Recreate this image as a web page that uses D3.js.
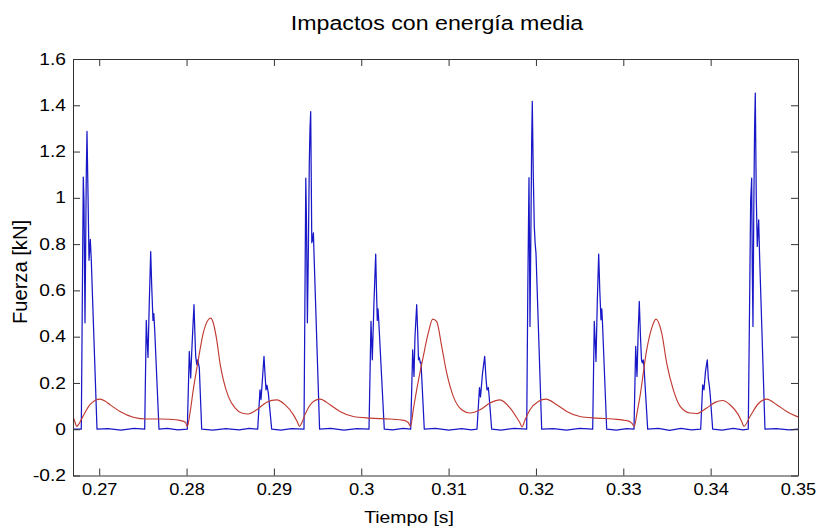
<!DOCTYPE html>
<html>
<head>
<meta charset="utf-8">
<script src="https://cdn.jsdelivr.net/npm/d3@7"></script>
<style>
  html, body { margin: 0; padding: 0; background: #fff; }
  svg { display: block; }
  text { font-family: "Liberation Sans", Arial, Helvetica, sans-serif; fill: #000; }
</style>
</head>
<body>
<svg id="chart" width="819" height="529"></svg>
<script>
// Time in milliseconds, force in kN.
const titleText = "Impactos con energía media";
const xLabelText = "Tiempo [s]";
const yLabelText = "Fuerza [kN]";

const xTicks = [270, 280, 290, 300, 310, 320, 330, 340, 350];
const xTickLabels = ["0.27", "0.28", "0.29", "0.3", "0.31", "0.32", "0.33", "0.34", "0.35"];
const yTicks = [-0.2, 0, 0.2, 0.4, 0.6, 0.8, 1, 1.2, 1.4, 1.6];
const yTickLabels = ["-0.2", "0", "0.2", "0.4", "0.6", "0.8", "1", "1.2", "1.4", "1.6"];

// Measured impact force (blue trace)
const forceTime = [
  267.000, 267.950, 268.065, 268.179, 268.259, 268.374, 268.523, 268.603, 268.717, 268.832, 268.981, 269.095, 269.209, 269.748,
  271.000, 272.500, 274.000,
  275.208, 275.391, 275.494, 275.586, 275.735, 275.895, 276.010, 276.158, 276.250, 276.353, 276.845,
  277.800, 279.000,
  280.085, 280.314, 280.474, 280.589, 280.738, 280.852, 280.967, 281.047, 281.161, 281.276, 281.459, 281.734,
  283.000, 284.500, 286.000, 287.200,
  288.144, 288.408, 288.522, 288.694, 288.866, 288.980, 289.095, 289.209, 289.358, 289.747,
  290.800, 292.000,
  293.445, 293.559, 293.651, 293.731, 293.834, 293.937, 294.052, 294.132, 294.212, 294.338, 294.429, 294.521, 294.601, 295.231,
  296.500, 298.000, 299.500,
  300.886, 301.115, 301.195, 301.264, 301.458, 301.653, 301.745, 301.836, 301.916, 301.997, 302.638,
  303.600, 304.800,
  305.660, 305.889, 306.038, 306.152, 306.347, 306.461, 306.553, 306.644, 306.759, 306.839, 307.217,
  308.500, 310.000, 311.500, 312.600,
  313.250, 313.536, 313.651, 313.880, 314.131, 314.280, 314.395, 314.544, 314.624, 314.933,
  316.000, 317.500,
  318.940, 319.066, 319.203, 319.260, 319.317, 319.432, 319.512, 319.581, 319.695, 319.810, 319.913, 320.004, 320.657,
  322.000, 323.500, 325.000,
  326.495, 326.678, 326.781, 326.873, 327.022, 327.182, 327.308, 327.445, 327.537, 327.617, 328.098,
  329.200, 330.400,
  331.223, 331.418, 331.567, 331.704, 331.830, 331.967, 332.082, 332.173, 332.277, 332.368, 332.792,
  334.000, 335.300, 336.600, 337.800,
  338.859, 339.088, 339.237, 339.409, 339.615, 339.730, 339.844, 339.947, 340.233,
  341.300, 342.600, 343.700,
  344.308, 344.446, 344.583, 344.698, 344.766, 344.846, 344.938, 345.030, 345.110, 345.224, 345.339, 345.419, 345.499, 345.602, 346.220,
  347.500, 349.000, 350.000
];
const forceValue = [
  0.000, 0.000, 0.550, 1.090, 0.980, 0.460, 1.110, 1.287, 1.020, 0.730, 0.820, 0.730, 0.600, 0.000,
  0.003, -0.004, 0.004,
  0.000, 0.470, 0.380, 0.310, 0.550, 0.768, 0.620, 0.470, 0.500, 0.430, 0.000,
  0.004, -0.003,
  0.000, 0.336, 0.222, 0.330, 0.450, 0.538, 0.400, 0.315, 0.280, 0.300, 0.266, 0.000,
  -0.004, 0.003, -0.003, 0.004,
  0.000, 0.170, 0.128, 0.220, 0.315, 0.240, 0.170, 0.190, 0.157, 0.000,
  -0.004, 0.003,
  0.000, 0.600, 1.085, 0.900, 0.460, 0.750, 1.150, 1.300, 1.373, 0.806, 0.820, 0.849, 0.747, 0.000,
  0.004, -0.004, 0.003,
  0.000, 0.466, 0.380, 0.300, 0.550, 0.757, 0.600, 0.470, 0.520, 0.473, 0.000,
  -0.003, 0.004,
  0.000, 0.343, 0.228, 0.400, 0.538, 0.420, 0.300, 0.310, 0.287, 0.290, 0.000,
  0.004, -0.004, 0.003, -0.003,
  0.000, 0.180, 0.140, 0.240, 0.315, 0.220, 0.170, 0.180, 0.150, 0.000,
  -0.004, 0.004,
  0.000, 0.600, 1.087, 0.800, 0.444, 0.900, 1.250, 1.417, 1.100, 0.876, 0.800, 0.761, 0.000,
  0.003, -0.004, 0.004,
  0.000, 0.466, 0.380, 0.293, 0.550, 0.757, 0.600, 0.473, 0.520, 0.460, 0.000,
  -0.004, 0.003,
  0.000, 0.358, 0.228, 0.420, 0.552, 0.400, 0.300, 0.287, 0.300, 0.270, 0.000,
  0.004, -0.005, 0.004, -0.003,
  0.000, 0.192, 0.170, 0.250, 0.300, 0.220, 0.190, 0.150, 0.000,
  -0.004, 0.004, -0.003,
  0.000, 0.500, 0.992, 1.085, 0.700, 0.444, 0.950, 1.300, 1.453, 1.000, 0.790, 0.850, 0.905, 0.750, 0.000,
  0.003, -0.003, 0.000
];

// Filtered response (red trace)
const responseTime = [
  267.000, 267.229, 267.424, 267.630, 267.996, 268.488, 268.946, 269.519, 270.091, 270.663, 271.236, 272.381,
  273.903, 275.437, 276.960, 278.105, 279.249, 279.879, 280.085,
  280.394, 280.772, 281.344, 281.917, 282.489, 282.764, 283.062, 283.451, 283.829, 284.206, 284.779, 285.546,
  286.313, 287.068, 288.030, 289.175, 290.320, 291.270, 292.220, 292.701, 292.930,
  293.216, 293.559, 294.326, 295.277, 296.421, 297.566, 299.089, 301.001, 303.290, 304.893, 305.408, 305.637,
  305.980, 306.347, 307.102, 307.675, 308.178, 308.636, 309.209, 309.781, 310.537, 311.498, 312.449,
  313.593, 314.738, 315.883, 317.028, 317.715, 318.173, 318.402,
  318.745, 319.317, 320.267, 321.149, 322.374, 323.519, 325.041, 326.953, 328.854, 330.536, 330.994, 331.258,
  331.567, 331.910, 332.677, 333.249, 333.742, 334.394, 334.967, 335.722, 336.489, 337.634, 338.401,
  339.546, 340.496, 341.377, 342.213, 343.163, 343.587, 343.816,
  344.503, 345.453, 346.415, 347.560, 348.705, 350.000
];
const responseValue = [
  0.058, 0.030, 0.012, 0.020, 0.045, 0.080, 0.106, 0.124, 0.130, 0.122, 0.106, 0.077,
  0.052, 0.044, 0.044, 0.043, 0.038, 0.030, 0.012,
  0.070, 0.171, 0.300, 0.416, 0.473, 0.480, 0.459, 0.387, 0.286, 0.214, 0.142, 0.092,
  0.070, 0.066, 0.084, 0.117, 0.127, 0.106, 0.063, 0.030, 0.012,
  0.030, 0.063, 0.113, 0.130, 0.106, 0.077, 0.055, 0.048, 0.044, 0.038, 0.028, 0.012,
  0.090, 0.171, 0.315, 0.416, 0.476, 0.465, 0.358, 0.243, 0.142, 0.084, 0.070,
  0.084, 0.113, 0.127, 0.092, 0.055, 0.027, 0.010,
  0.040, 0.084, 0.120, 0.130, 0.106, 0.077, 0.055, 0.048, 0.044, 0.036, 0.025, 0.012,
  0.070, 0.142, 0.343, 0.437, 0.476, 0.416, 0.286, 0.171, 0.100, 0.070, 0.068,
  0.092, 0.116, 0.124, 0.106, 0.063, 0.030, 0.012,
  0.055, 0.110, 0.130, 0.106, 0.077, 0.053
];

const plot = { left: 73, right: 798, top: 59, bottom: 475.5 };
const textStretch = 1.14;

const svg = d3.select("#chart");

const x = d3.scaleLinear().domain([267, 350]).range([plot.left, plot.right]);
const y = d3.scaleLinear().domain([-0.2, 1.6]).range([plot.bottom, plot.top]);

svg.append("defs").append("clipPath").attr("id", "plotClip")
  .append("rect")
  .attr("x", plot.left).attr("y", plot.top)
  .attr("width", plot.right - plot.left).attr("height", plot.bottom - plot.top);

const forceData = forceTime.map((t, i) => [t, forceValue[i]]);
const responseData = responseTime.map((t, i) => [t, responseValue[i]]);

const lines = svg.append("g").attr("clip-path", "url(#plotClip)");

lines.append("path")
  .datum(forceData)
  .attr("fill", "none")
  .attr("stroke", "#1818c8")
  .attr("stroke-width", 1.25)
  .attr("stroke-linejoin", "round")
  .attr("d", d3.line().x(d => x(d[0])).y(d => y(d[1])));

lines.append("path")
  .datum(responseData)
  .attr("fill", "none")
  .attr("stroke", "#c03a32")
  .attr("stroke-width", 1.15)
  .attr("d", d3.line().curve(d3.curveMonotoneX).x(d => x(d[0])).y(d => y(d[1])));

// Box with inward ticks on all four sides
const tickLen = 7;
const axisColor = "#333";

function styleAxis(g) {
  g.select(".domain").attr("stroke", axisColor);
  g.selectAll(".tick line").attr("stroke", axisColor);
}

const bottomAxis = svg.append("g")
  .attr("transform", `translate(0,${plot.bottom})`)
  .call(d3.axisBottom(x).tickValues(xTicks).tickSizeInner(-tickLen).tickSizeOuter(0)
    .tickPadding(8).tickFormat((d, i) => xTickLabels[i]));
styleAxis(bottomAxis);
bottomAxis.selectAll(".tick text")
  .attr("font-size", 16).attr("font-family", "Liberation Sans, Arial, sans-serif")
  .attr("fill", "#000")
  .attr("transform", `scale(${textStretch},1)`);

const topAxis = svg.append("g")
  .attr("transform", `translate(0,${plot.top})`)
  .call(d3.axisTop(x).tickValues(xTicks).tickSizeInner(-tickLen).tickSizeOuter(0).tickFormat(""));
styleAxis(topAxis);

const leftAxis = svg.append("g")
  .attr("transform", `translate(${plot.left},0)`)
  .call(d3.axisLeft(y).tickValues(yTicks).tickSizeInner(-tickLen).tickSizeOuter(0)
    .tickFormat((d, i) => yTickLabels[i]));
styleAxis(leftAxis);
leftAxis.selectAll(".tick text")
  .attr("font-size", 16).attr("font-family", "Liberation Sans, Arial, sans-serif")
  .attr("fill", "#000")
  .attr("x", -7 / 1.2)
  .attr("transform", "scale(1.2,1)");

const rightAxis = svg.append("g")
  .attr("transform", `translate(${plot.right},0)`)
  .call(d3.axisRight(y).tickValues(yTicks).tickSizeInner(-tickLen).tickSizeOuter(0).tickFormat(""));
styleAxis(rightAxis);

// Titles
svg.append("text")
  .attr("transform", `translate(437,29.5) scale(1.16,1)`)
  .attr("text-anchor", "middle")
  .attr("font-size", 20)
  .text(titleText);

svg.append("text")
  .attr("transform", `translate(409,523) scale(${textStretch},1)`)
  .attr("text-anchor", "middle")
  .attr("font-size", 17)
  .text(xLabelText);

svg.append("text")
  .attr("transform", `translate(27,272) rotate(-90) scale(1.12,${textStretch})`)
  .attr("text-anchor", "middle")
  .attr("font-size", 18)
  .text(yLabelText);
</script>
</body>
</html>
